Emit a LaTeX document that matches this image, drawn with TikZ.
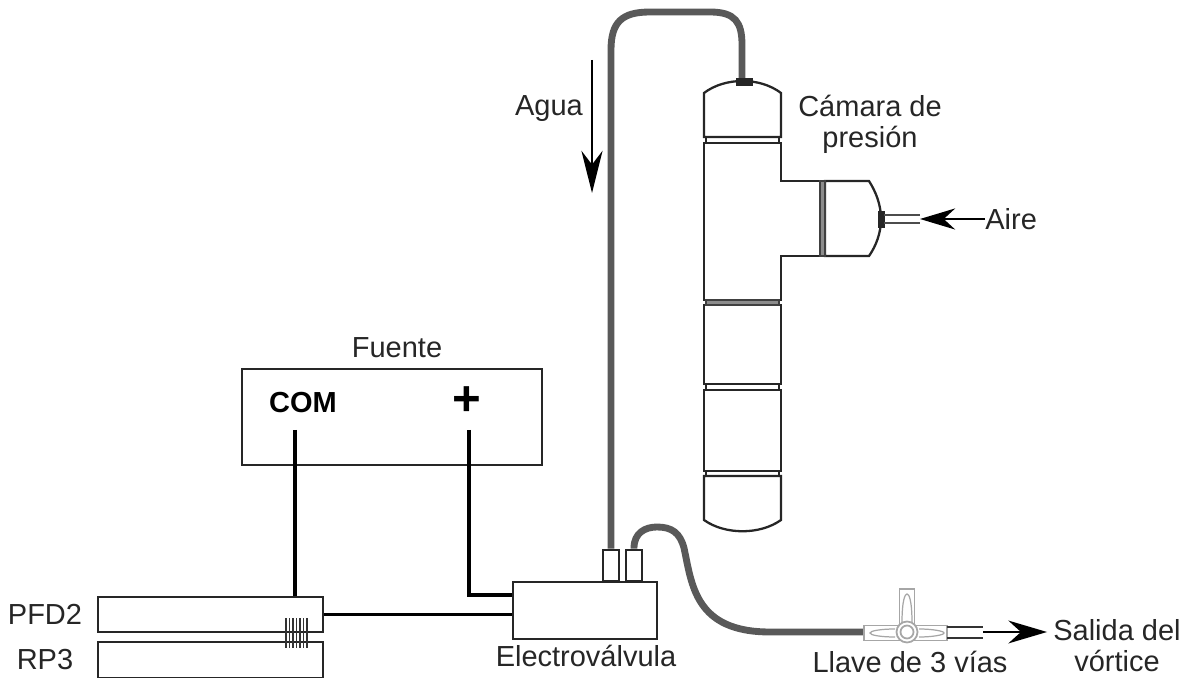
\documentclass[tikz,border=0pt]{standalone}
\usepackage{fontspec}
\setmainfont{Liberation Sans}
\usetikzlibrary{arrows.meta}
\tikzset{
  label/.style = {font=\fontsize{16.5}{17.6}\selectfont, text=black!85, align=center, inner sep=0pt},
  outline/.style = {draw=black!85, line width=1.3pt},
  wire/.style = {draw=black, line width=2pt},
  tube/.style = {draw=black!65, line width=3.9pt},
  sep/.style = {draw=black!75, fill=black!45, line width=0.7pt},
  thin tube/.style = {draw=black!70, line width=1.4pt},
  valve/.style = {draw=black!35, fill=white, line width=1pt},
  flow/.style = {draw=black, line width=1.2pt},
}
\begin{document}
\begin{tikzpicture}[x=0.02cm, y=-0.02cm]
  \useasboundingbox (0,0) rectangle (1190,678);

  % power supply
  \node [outline, minimum width=6cm, minimum height=1.92cm, inner sep=0pt] (fuente) at (392,417) {};
  \node [label] (fuentetext) at (397,348) {Fuente};
  \node [label, font=\fontsize{16.5}{17.6}\selectfont\bfseries, text=black] (com) at (303,403) {COM};
  \node [label, font=\fontsize{28}{30}\selectfont\bfseries, text=black] (plus) at (467,401) {+};
  \coordinate (comend) at (295,430);
  \coordinate (plusend) at (469,430);

  % meters
  \node [outline, minimum width=4.5cm, minimum height=0.7cm, inner sep=0pt] (pfd) at (210.5,614.5) {};
  \node [outline, minimum width=4.5cm, minimum height=0.72cm, inner sep=0pt] (rp) at (210.5,660) {};
  \node [label] (pfdtext) at (45,614) {PFD2};
  \node [label] (rptext) at (45,660) {RP3};
  \foreach \x in {286,289.5,...,307}
    \draw [black!80, line width=0.9pt] (\x,618) -- (\x,648);

  % valve
  \node [outline, minimum width=2.88cm, minimum height=1.14cm, inner sep=0pt] (valve) at (585,610.5) {};
  \node [outline, minimum width=0.32cm, minimum height=0.62cm, inner sep=0pt, anchor=south] (portin) at (611,582) {};
  \node [outline, minimum width=0.32cm, minimum height=0.62cm, inner sep=0pt, anchor=south] (portout) at (634,582) {};
  \node [label] (valvetext) at (586,656) {Electroválvula};

  \draw [wire] (comend) -- (comend |- pfd.north);
  \draw [wire] (plusend) |- (valve.west |- 0,595);
  \draw [wire] (pfd.east) -- (valve.west |- pfd.east);

  % pressure chamber
  \draw [outline] (704,137) -- (704,93) .. controls (725,77) and (760,77) .. (781,93) -- (781,137) -- cycle;
  \draw [outline] (704,143) -- (781,143) -- (781,181) -- (820,181) -- (820,256) -- (781,256) -- (781,300) -- (704,300) -- cycle;
  \draw [outline] (825,181) -- (869,181) .. controls (876,192) and (881,205) .. (881,219) .. controls (881,233) and (876,246) .. (869,256) -- (825,256) -- cycle;
  \draw [outline] (704,305) rectangle (781,384);
  \draw [outline] (704,390) rectangle (781,471);
  \draw [outline] (704,476) -- (781,476) -- (781,520) .. controls (760,535) and (725,535) .. (704,520) -- cycle;
  \draw [outline, line width=0.8pt] (706,137) rectangle (779,143);
  \draw [sep] (706,300) rectangle (779,305);
  \draw [outline, line width=0.8pt] (706,384) rectangle (779,390);
  \draw [outline, line width=0.8pt] (706,471) rectangle (779,476);
  \draw [sep] (820,181) rectangle (825,256);
  \node [label] (camaratext) at (870,124.5) {Cámara de\\presión};

  % tubes
  \coordinate (tanktop) at (742,78);
  \draw [tube] (portin.north) -- (611,50) .. controls (611,22) and (622,12) .. (650,12) -- (710,12) .. controls (735,12) and (742,22) .. (742,45) -- (tanktop);
  \draw [tube] (portout.north) -- (634,548) .. controls (634,533) and (645,527) .. (657,527) .. controls (672,527) and (680,533) .. (684,548) .. controls (692,585) and (695,632) .. (770,632) -- (865,632);
  \draw [black!85, fill=black!85] (736,78) rectangle (752,85);
  \draw [black!85, fill=black!85] (878,211) rectangle (884,227);

  % air inlet
  \coordinate (airend) at (920,219);
  \draw [thin tube] (884,215) -- (920,215);
  \draw [thin tube] (884,223) -- (920,223);
  \node [label, anchor=west] (airetext) at (985,219) {Aire};
  \draw [flow, -{Stealth[length=20pt, width=12pt]}] (airetext.west) -- (airend);

  % water
  \coordinate (aguatop) at (592,60);
  \coordinate (aguaend) at (592,193);
  \node [label] (aguatext) at (549,109) {Agua};
  \draw [flow, -{Stealth[length=24pt, width=12pt]}] (aguatop) -- (aguaend);

  % stopcock
  \node [valve, minimum width=1.66cm, minimum height=0.3cm, inner sep=0pt] (llave) at (905.5,633) {};
  \node [valve, minimum width=0.3cm, minimum height=0.72cm, inner sep=0pt, anchor=south] (handle) at (907,626) {};
  \draw [black!35, line width=0.7pt] (902,623) .. controls (902,600) and (905,594) .. (907,594) .. controls (909,594) and (912,600) .. (912,623);
  \draw [black!35, line width=0.7pt] (895,629) .. controls (880,629) and (870,631) .. (870,633) .. controls (870,635) and (880,637) .. (895,637);
  \draw [black!35, line width=0.7pt] (919,629) .. controls (932,629) and (944,631) .. (944,633) .. controls (944,635) and (932,637) .. (919,637);
  \node [valve, circle, minimum size=0.42cm, inner sep=0pt] (cock) at (907,632) {};
  \node [valve, circle, minimum size=0.26cm, inner sep=0pt] (cockin) at (907,632) {};
  \node [label] (llavetext) at (910,662) {Llave de 3 vías};

  % outlet
  \coordinate (outend) at (983,632);
  \coordinate (arrowend) at (1047,632);
  \draw [thin tube, draw=black!80] (947,627) -- (983,627);
  \draw [thin tube, draw=black!80] (947,638) -- (983,638);
  \draw [flow, -{Stealth[length=22pt, width=13pt]}] (outend) -- (arrowend);
  \node [label] (salidatext) at (1117,645.5) {Salida del\\vórtice};
\end{tikzpicture}
\end{document}
